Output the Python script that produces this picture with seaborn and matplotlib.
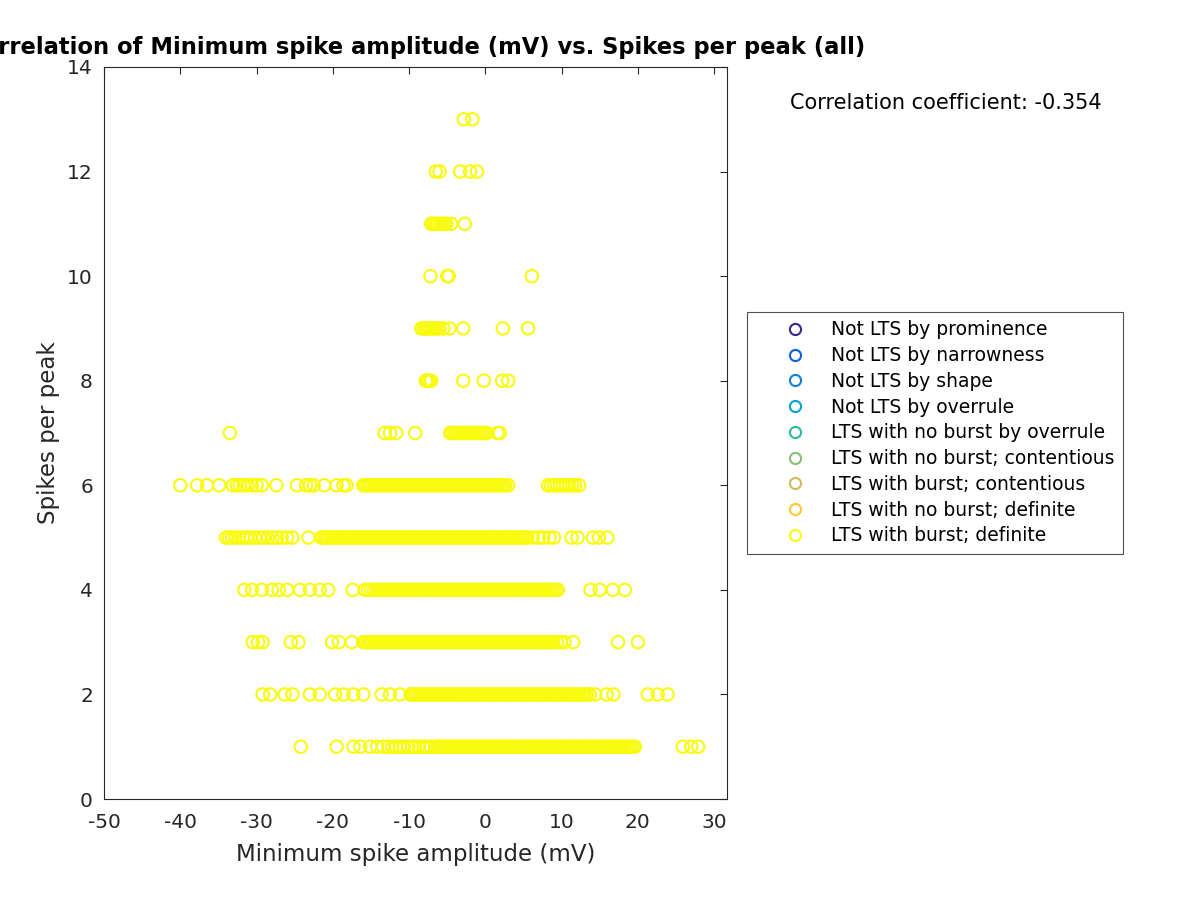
import numpy as np
import pandas as pd
import matplotlib
matplotlib.use("Agg")
import matplotlib.pyplot as plt
from matplotlib.lines import Line2D
import seaborn as sns

sns.set_theme(style="white")
plt.rcParams["font.family"] = ["DejaVu Sans"]
plt.rcParams["axes.unicode_minus"] = False

# ----------------------------------------------------------------------
# Data: minimum spike amplitude (mV) of each peak, grouped by spikes per peak
# (all peaks fall in "LTS with burst; definite")
# ----------------------------------------------------------------------
amp_1 = [-24.2, -19.5, -17.3, -16.4, -15.1, -14.2, -13.4, -12.7, -12.2, -11.7, -11.2, -10.7,
         -10.1, -9.6, -9.2, -8.7, -8.1, -7.7, -7.2, -6.6, -6.2,
         -5.9, -5.6, -5.3, -5.0, -4.7, -4.4, -4.1, -3.8, -3.5, -3.2, -2.9, -2.6, -2.3, -2.0,
         -1.7, -1.4, -1.1, -0.8, -0.5, -0.2, 0.1, 0.4, 0.7, 1.0, 1.3, 1.6, 1.9, 2.2, 2.5, 2.8,
         3.1, 3.4, 3.7, 4.0, 4.3, 4.6, 4.9, 5.2, 5.5, 5.8, 6.1, 6.4, 6.7, 7.0, 7.3, 7.6, 7.9,
         8.2, 8.5, 8.8, 9.1, 9.4, 9.7, 10.0, 10.3, 10.6, 10.9, 11.2, 11.5, 11.8, 12.1, 12.4,
         12.7, 13.0, 13.3, 13.6, 13.9, 14.2, 14.5, 14.8, 15.1, 15.4, 15.7, 16.0, 16.3, 16.6,
         16.9, 17.2, 17.5, 17.8, 18.1, 18.4, 18.7, 19.0, 19.3, 19.6,
         25.9, 27.0, 27.9]
amp_2 = [-29.2, -28.2, -26.3, -25.3, -23.0, -21.7, -19.7, -18.6, -17.3, -16.0, -13.6, -12.5,
         -11.2, -9.8, -9.5, -9.2, -8.9, -8.6, -8.3, -8.0, -7.7, -7.4, -7.1, -6.8, -6.5, -6.2,
         -5.9, -5.6, -5.3, -5.0, -4.7, -4.4, -4.1, -3.8, -3.5, -3.2, -2.9, -2.6, -2.3, -2.0,
         -1.7, -1.4, -1.1, -0.8, -0.5, -0.2, 0.1, 0.4, 0.7, 1.0, 1.3, 1.6, 1.9, 2.2, 2.5, 2.8,
         3.1, 3.4, 3.7, 4.0, 4.3, 4.6, 4.9, 5.2, 5.5, 5.8, 6.1, 6.4, 6.7, 7.0, 7.3, 7.6, 7.9,
         8.2, 8.5, 8.8, 9.1, 9.4, 9.7, 10.0, 10.3, 10.6, 10.9, 11.2, 11.5, 11.8, 12.1, 12.4,
         12.7, 13.0, 13.3, 13.7, 14.4, 15.9, 16.8, 21.3, 22.6, 23.9]
amp_3 = [-30.5, -29.8, -29.2, -25.5, -24.5, -20.1, -19.2, -17.5,
         -16.0, -15.7, -15.4, -15.1, -14.8, -14.5, -14.2, -13.9, -13.6, -13.3, -13.0, -12.7,
         -12.4, -12.1, -11.8, -11.5, -11.2, -10.9, -10.6, -10.3, -10.0, -9.7, -9.4, -9.1, -8.8,
         -8.5, -8.2, -7.9, -7.6, -7.3, -7.0, -6.7, -6.4, -6.1, -5.8, -5.5, -5.2, -4.9, -4.6,
         -4.3, -4.0, -3.7, -3.4, -3.1, -2.8, -2.5, -2.2, -1.9, -1.6, -1.3, -1.0, -0.7, -0.4,
         -0.1, 0.2, 0.5, 0.8, 1.1, 1.4, 1.7, 2.0, 2.3, 2.6, 2.9, 3.2, 3.5, 3.8, 4.1, 4.4, 4.7,
         5.0, 5.3, 5.6, 5.9, 6.2, 6.5, 6.8, 7.1, 7.4, 7.7, 8.0, 8.3, 8.6, 8.9,
         9.4, 9.9, 10.4, 11.5, 17.4, 20.0]
amp_4 = [-31.6, -30.6, -29.3, -28.0, -27.1, -26.0, -24.3, -23.0, -21.7, -20.6, -17.4,
         -15.8, -15.4, -15.0, -14.6, -14.2, -13.9, -13.6, -13.3, -13.0, -12.7, -12.4, -12.1,
         -11.8, -11.5, -11.2, -10.9, -10.6, -10.3, -10.0, -9.7, -9.4, -9.1, -8.8, -8.5, -8.2,
         -7.9, -7.6, -7.3, -7.0, -6.7, -6.4, -6.1, -5.8, -5.5, -5.2, -4.9, -4.6, -4.3, -4.0,
         -3.7, -3.4, -3.1, -2.8, -2.5, -2.2, -1.9, -1.6, -1.3, -1.0, -0.7, -0.4, -0.1, 0.2,
         0.5, 0.8, 1.1, 1.4, 1.7, 2.0, 2.3, 2.6, 2.9, 3.2, 3.5, 3.8, 4.1, 4.4, 4.7, 5.0, 5.3,
         5.6, 5.9, 6.2, 6.5, 6.8, 7.1, 7.4, 7.7, 8.0, 8.3, 8.6, 8.9, 9.2, 9.5,
         13.8, 15.0, 16.7, 18.3]
amp_5 = [-34.0, -33.6, -33.2, -32.8, -32.3, -31.8, -31.3, -30.8, -30.2, -29.6, -29.1, -28.5,
         -27.9, -27.3, -26.7, -26.0, -25.3, -23.2,
         -21.5, -21.2, -20.9, -20.6, -20.3, -20.0, -19.7, -19.4, -19.1, -18.8, -18.5, -18.2,
         -17.9, -17.6, -17.3, -17.0, -16.7, -16.4, -16.1, -15.8, -15.5, -15.2, -14.9, -14.6,
         -14.3, -14.0, -13.7, -13.4, -13.1, -12.8, -12.5, -12.2, -11.9, -11.6, -11.3, -11.0,
         -10.7, -10.4, -10.1, -9.8, -9.5, -9.2, -8.9, -8.6, -8.3, -8.0, -7.7, -7.4, -7.1, -6.8,
         -6.5, -6.2, -5.9, -5.6, -5.3, -5.0, -4.7, -4.4, -4.1, -3.8, -3.5, -3.2, -2.9, -2.6,
         -2.3, -2.0, -1.7, -1.4, -1.1, -0.8, -0.5, -0.2, 0.1, 0.4, 0.7, 1.0, 1.3, 1.6, 1.9,
         2.2, 2.5, 2.8, 3.1, 3.4, 3.7, 4.0, 4.3, 4.6, 4.9, 5.2, 5.5,
         6.2, 7.0, 7.6, 8.4, 9.0, 11.3, 12.1, 14.1, 14.9, 16.0]
amp_6 = [-40.0, -37.8, -36.5, -34.9, -33.1, -32.6, -32.2, -31.7, -31.2, -30.6, -30.0, -29.3,
         -27.4, -24.7, -23.5, -23.0, -22.5, -21.1, -19.5, -18.6, -18.2,
         -16.0, -15.7, -15.4, -15.1, -14.8, -14.5, -14.2, -13.9, -13.6, -13.3, -13.0, -12.7,
         -12.4, -12.1, -11.8, -11.5, -11.2, -10.9, -10.6, -10.3, -10.0, -9.7, -9.4, -9.1, -8.8,
         -8.5, -8.2, -7.9, -7.6, -7.3, -7.0, -6.7, -6.4, -6.1, -5.8, -5.5, -5.2, -4.9, -4.6,
         -4.3, -4.0, -3.7, -3.4, -3.1, -2.8, -2.5, -2.2, -1.9, -1.6, -1.3, -1.0, -0.7, -0.4,
         -0.1, 0.2, 0.5, 0.8, 1.1, 1.4, 1.7, 2.0, 2.3, 2.6, 3.0,
         8.2, 8.6, 9.0, 9.4, 9.8, 10.2, 10.6, 11.0, 11.4, 11.8, 12.3]
amp_7 = [-33.5, -13.2, -12.5, -11.7, -9.2, -4.6, -4.3, -4.0, -3.7, -3.4, -3.1, -2.8, -2.5,
         -2.2, -1.9, -1.6, -1.3, -1.0, -0.7, -0.4, -0.1, 0.2, 1.6, 1.9]
amp_8 = [-7.8, -7.6, -7.4, -7.1, -2.9, -0.2, 2.2, 3.0]
amp_9 = [-8.4, -8.1, -7.8, -7.6, -7.3, -7.0, -6.7, -6.4, -6.0, -5.5, -4.7, -2.9, 2.3, 5.6]
amp_10 = [-7.2, -5.0, -4.8, 6.1]
amp_11 = [-7.1, -6.9, -6.6, -6.3, -6.0, -5.7, -5.4, -5.1, -4.5, -2.7]
amp_12 = [-6.5, -6.0, -3.3, -2.0, -1.1]
amp_13 = [-2.8, -1.7]

amps_by_spikes = {1: amp_1, 2: amp_2, 3: amp_3, 4: amp_4, 5: amp_5, 6: amp_6, 7: amp_7,
                  8: amp_8, 9: amp_9, 10: amp_10, 11: amp_11, 12: amp_12, 13: amp_13}

categories = ["Not LTS by prominence", "Not LTS by narrowness", "Not LTS by shape",
              "Not LTS by overrule", "LTS with no burst by overrule",
              "LTS with no burst; contentious", "LTS with burst; contentious",
              "LTS with no burst; definite", "LTS with burst; definite"]
cat_colors = ["#352a87", "#0f5cdd", "#1481d6", "#06a4ca", "#2eb7a4",
              "#87bf77", "#d1bb59", "#fec832", "#f9fb0e"]
corr_text = "Correlation coefficient: -0.354"

rows = []
for n, amps in amps_by_spikes.items():
    for a in amps:
        rows.append({"amp": a, "spikes": n, "cls": "LTS with burst; definite"})
df = pd.DataFrame(rows)
palette = dict(zip(categories, cat_colors))

# ----------------------------------------------------------------------
# Plot
# ----------------------------------------------------------------------
fig = plt.figure(figsize=(12, 9), dpi=100)
ax = fig.add_axes([0.0867, 0.1122, 0.5192, 0.8134])

sns.scatterplot(data=df, x="amp", y="spikes", hue="cls", hue_order=categories,
                palette=palette, s=80, linewidth=1.5, legend=False, ax=ax)
# hollow circles like MATLAB
coll = ax.collections[0]
fc = coll.get_facecolors()
coll.set_edgecolors(fc)
coll.set_facecolors("none")

ax.set_xlim(-50, 31.7)
ax.set_ylim(0, 14)
ax.set_xticks([-50, -40, -30, -20, -10, 0, 10, 20, 30])
ax.set_yticks([0, 2, 4, 6, 8, 10, 12, 14])
ax.tick_params(direction="in", top=True, right=True, length=5, width=0.8,
               labelsize=14.5, colors="#262626")
ax.tick_params(axis="x", pad=10)
ax.tick_params(axis="y", pad=8)
for sp in ax.spines.values():
    sp.set_color("#262626")
    sp.set_linewidth(0.8)

ax.set_xlabel("Minimum spike amplitude (mV)", fontsize=16.5, color="#262626", labelpad=8)
ax.set_ylabel("Spikes per peak", fontsize=16.5, color="#262626", labelpad=5)
ax.set_title("Correlation of Minimum spike amplitude (mV) vs. Spikes per peak (all)",
             fontsize=16.3, fontweight="bold", color="black", pad=9)

fig.text(0.658, 0.886, corr_text, fontsize=15, va="center", ha="left", color="black")

handles = [Line2D([], [], marker="o", ls="", mfc="none", mec=c, ms=8, mew=1.5)
           for c in cat_colors]
leg = fig.legend(handles, categories, loc="upper left", bbox_to_anchor=(0.6225, 0.6533),
                 borderaxespad=0, fontsize=13.5, frameon=True, fancybox=False,
                 edgecolor="#262626", handlelength=4.2, handletextpad=-0.17,
                 borderpad=0.45, labelspacing=0.36)
leg.get_frame().set_linewidth(0.8)
for t in leg.get_texts():
    t.set_color("black")

fig.savefig("out.png", dpi=100)
